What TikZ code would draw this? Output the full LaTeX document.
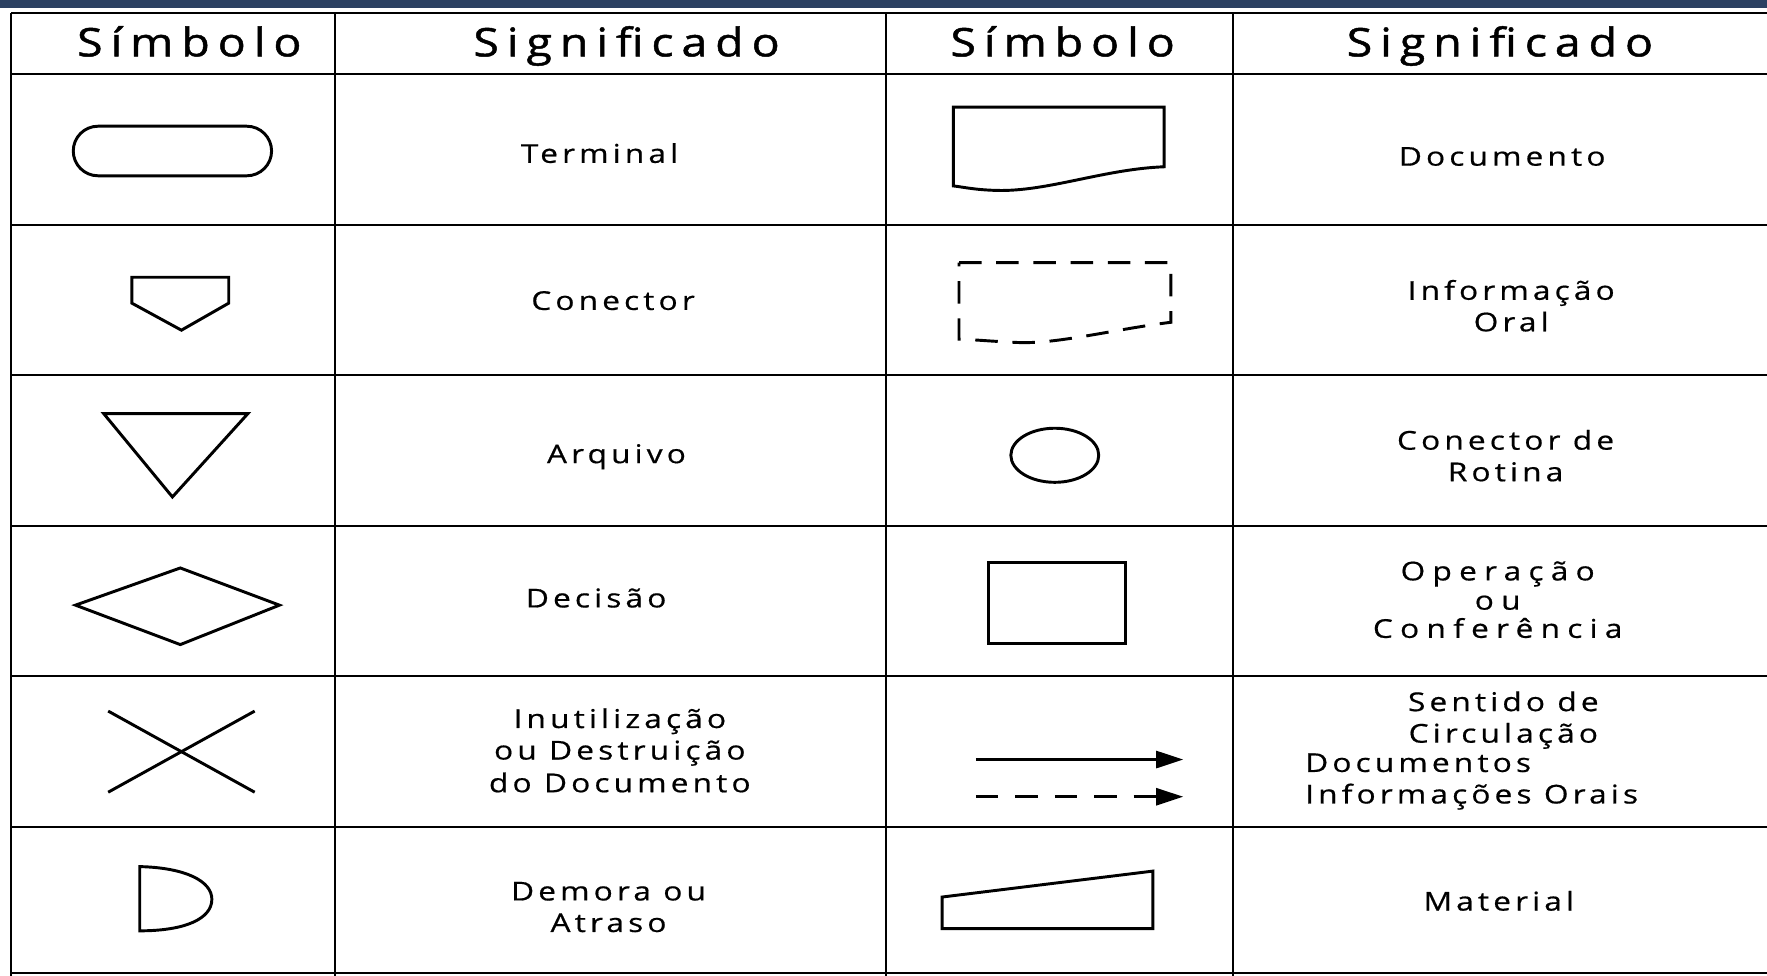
\documentclass[tikz,border=0pt]{standalone}
\usepackage{fontspec}
\setmainfont{Open Sans}[LetterSpace=16,FakeStretch=1.22,FakeBold=0.6]
\newfontfamily\hdfont{Open Sans}[LetterSpace=20,FakeStretch=1.18,FakeBold=1.2]
\newfontfamily\widefont{Open Sans}[LetterSpace=28,FakeStretch=1.22,FakeBold=0.6]
\usetikzlibrary{arrows.meta}
\definecolor{barblue}{HTML}{2B4162}
\begin{document}
\begin{tikzpicture}[x=1pt,y=-1pt,
  grid/.style={line width=1.7pt},
  shp/.style={line width=2.6pt, line join=miter},
  hdr/.style={font=\hdfont\fontsize{35}{40}\selectfont, anchor=base, inner sep=0pt},
  txt/.style={font=\fontsize{23}{28}\selectfont, anchor=base, inner sep=0pt},
  wtxt/.style={font=\widefont\fontsize{23}{28}\selectfont, anchor=base, inner sep=0pt},
  flow/.style={line width=2.6pt, -{Triangle[length=24pt,width=15pt]}},
]
\fill[white] (0,0) rectangle (1568,866);
\useasboundingbox (0,0) rectangle (1568,866);
\fill[barblue] (0,0) rectangle (1568,7.5);

% grid
\foreach \x in {10,297,786,1094} \draw[grid] (\x,11.5) -- (\x,866);
\foreach \y in {11.5,66,199.5,333,467,600,733.5,863.5} \draw[grid] (10,\y) -- (1568,\y);

% headers
\node[hdr] (h1) at (168,50) {Símbolo};
\node[hdr] (h2) at (556,50) {Significado};
\node[hdr] (h3) at (943,50) {Símbolo};
\node[hdr] (h4) at (1331,50) {Significado};

% left column symbols
\draw[shp, rounded corners=22pt] (65,112) rectangle (241,156);
\draw[shp] (117,246) -- (203,246) -- (203,269) -- (161,293) -- (117,269) -- cycle;
\draw[shp] (92,367) -- (220,367) -- (153,441) -- cycle;
\draw[shp] (67,537) -- (160,504) -- (248,537) -- (160,572) -- cycle;
\draw[shp] (96,631) -- (226,703);
\draw[shp] (96,703) -- (226,631);
\draw[shp] (124,769) .. controls (165,770) and (188,782) .. (188,798)
  .. controls (188,815) and (165,826) .. (124,826) -- cycle;

% left column meanings
\node[txt] (t1) at (532,144.5) {Terminal};
\node[txt] (t2) at (544,275) {Conector};
\node[txt] (t3) at (547,411) {Arquivo};
\node[txt] (t4) at (529,539) {Decisão};
\node[txt] (t5a) at (550,646) {Inutilização};
\node[txt] (t5b) at (550,674) {ou Destruição};
\node[txt] (t5c) at (550,703) {do Documento};
\node[txt] (t6a) at (540,799) {Demora ou};
\node[txt] (t6b) at (540,827) {Atraso};

% right column symbols
\draw[shp] (846,95) -- (1033,95) -- (1033,148)
  .. controls (980,150) and (930,170) .. (885,169)
  .. controls (865,168.5) and (855,166) .. (846,165) -- cycle;
\draw[shp, dash pattern=on 20pt off 13pt] (851,233) -- (1039,233) -- (1039,286)
  .. controls (990,292) and (940,305) .. (905,304)
  .. controls (880,303) and (860,301) .. (851,301) -- cycle;
\draw[shp] (936,404) ellipse [x radius=39, y radius=24];
\draw[shp] (877,499) rectangle (999,571);
\coordinate (a1s) at (866,674);
\coordinate (a1e) at (1050,674);
\coordinate (a2s) at (866,707);
\coordinate (a2e) at (1050,707);
\draw[flow] (a1s) -- (a1e);
\draw[flow, dash pattern=on 20pt off 15pt] (a2s) -- (a2e);
\draw[shp] (836,796) -- (1023,773) -- (1023,824) -- (836,824) -- cycle;

% right column meanings
\node[txt] (r1) at (1333,147) {Documento};
\node[txt] (r2a) at (1341,266) {Informação};
\node[txt] (r2b) at (1341,294) {Oral};
\node[txt] (r3a) at (1336,399) {Conector de};
\node[txt] (r3b) at (1336,427) {Rotina};
\node[wtxt] (r4a) at (1329,515) {Operação};
\node[wtxt] (r4b) at (1329,541) {ou};
\node[wtxt] (r4c) at (1329,566) {Conferência};
\node[txt] (r5a) at (1334,631) {Sentido de};
\node[txt] (r5b) at (1334,659) {Circulação};
\node[txt, anchor=base west] (r5c) at (1158,685) {Documentos};
\node[txt, anchor=base west] (r5d) at (1158,713) {Informações Orais};
\node[txt] (r6) at (1330,808) {Material};
\end{tikzpicture}
\end{document}
